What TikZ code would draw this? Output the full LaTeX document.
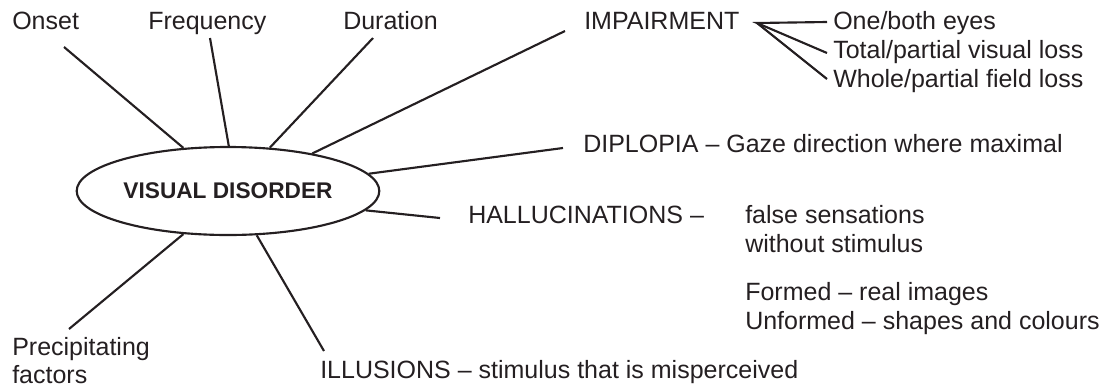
\documentclass[tikz,border=0pt]{standalone}
\usepackage{fontspec}
\setmainfont{Liberation Sans}
\usetikzlibrary{shapes.geometric}

\definecolor{ink}{rgb}{0.14,0.12,0.13}

\tikzset{
  lbl/.style={font=\fontsize{18.75}{21.75}\selectfont, inner sep=0pt, anchor=base west, text=ink},
  spoke/.style={ink, line width=1.6pt}
}

\begin{document}
\begin{tikzpicture}[x=0.75pt,y=-0.75pt]
            \useasboundingbox (0,0) rectangle (1103,390);

            \node[ellipse, draw=ink, line width=1.6pt, minimum width=227pt, minimum height=66pt, inner sep=0pt,
                  font=\fontsize{17}{20}\selectfont\bfseries, text=ink] (vd) at (228,191) {VISUAL DISORDER};

            \node[lbl] (onset) at (12,29) {Onset};
            \node[lbl] (freq) at (148,29) {Frequency};
            \node[lbl] (dur) at (343,29) {Duration};
            \node[lbl] (imp) at (584,29) {IMPAIRMENT};
            \node[lbl] (eyes) at (833,29) {One/both eyes};
            \node[lbl] (vloss) at (833,58) {Total/partial visual loss};
            \node[lbl] (floss) at (833,87) {Whole/partial field loss};
            \node[lbl] (dip) at (583,152) {DIPLOPIA -- Gaze direction where maximal};
            \node[lbl] (hal) at (468,223) {HALLUCINATIONS --};
            \node[lbl] (hal1) at (745,223) {false sensations};
            \node[lbl] (hal2) at (745,252) {without stimulus};
            \node[lbl] (hal3) at (745,300) {Formed -- real images};
            \node[lbl] (hal4) at (745,329) {Unformed -- shapes and colours};
            \node[lbl] (ill) at (320,378) {ILLUSIONS -- stimulus that is misperceived};
            \node[lbl] (pre1) at (12,355) {Precipitating};
            \node[lbl] (pre2) at (12,383) {factors};

            \coordinate (c-onset) at (64,47);
            \coordinate (c-freq) at (210,38);
            \coordinate (c-dur) at (373,38);
            \coordinate (c-imp) at (565,31);
            \coordinate (c-dip) at (563,148);
            \coordinate (c-hal) at (440,218);
            \coordinate (c-ill) at (324,351);
            \coordinate (c-pre) at (69,329);

            \draw[spoke] (vd.136) -- (c-onset);
            \draw[spoke] (vd.89) -- (c-freq);
            \draw[spoke] (vd.46) -- (c-dur);
            \draw[spoke] (vd.24) -- (c-imp);
            \draw[spoke] (vd.7) -- (c-dip);
            \draw[spoke] (vd.-8) -- (c-hal);
            \draw[spoke] (vd.-57) -- (c-ill);
            \draw[spoke] (vd.-136) -- (c-pre);

            \coordinate (br) at (757,23);
            \coordinate (b-eyes) at (827,22);
            \coordinate (b-vloss) at (827,53);
            \coordinate (b-floss) at (827,79);
            \draw[spoke] (b-eyes) -- (br) -- (b-vloss);
            \draw[spoke] (br) -- (b-floss);
        \end{tikzpicture}
\end{document}
